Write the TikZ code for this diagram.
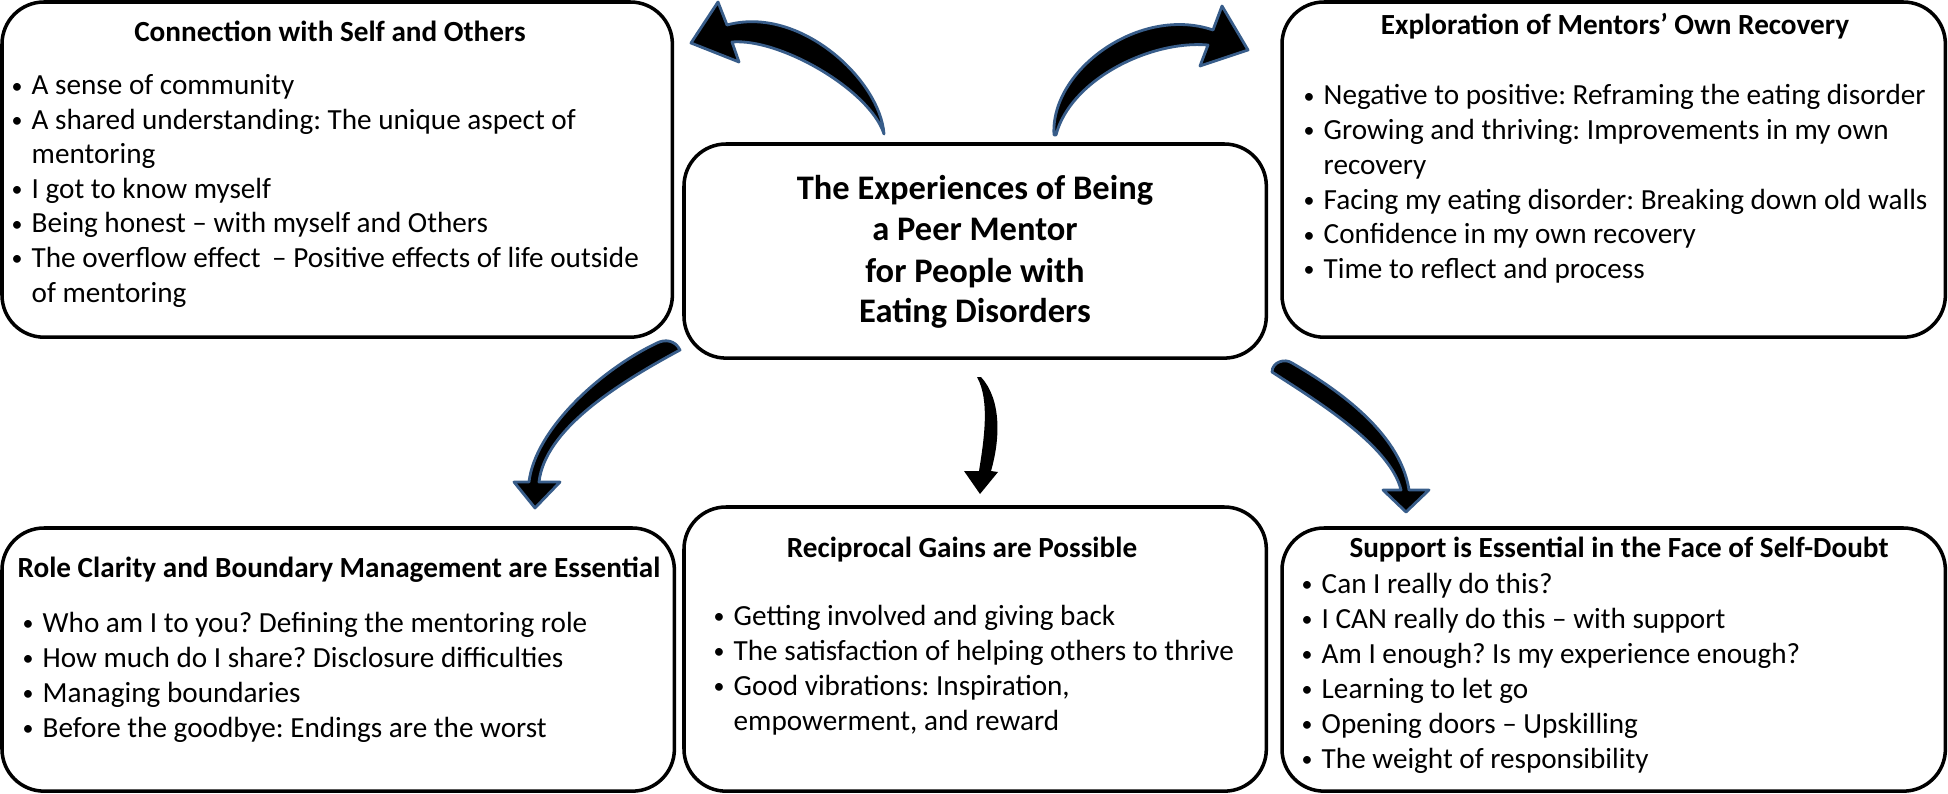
\documentclass[tikz,border=0pt]{standalone}
\usepackage{fontspec}
\setmainfont{Carlito}
\usetikzlibrary{positioning, calc}

\definecolor{arrowblue}{RGB}{56,93,138}
\newcommand{\bul}{\llap{\makebox[0.20cm][l]{\raisebox{0.06em}{\scalebox{0.75}{\textbullet}}}}}
\frenchspacing

\begin{document}
\begin{tikzpicture}[x=0.01cm, y=-0.01cm,
    themebox/.style={draw, line width=1pt, rounded corners=0.42cm,
        anchor=north west, inner sep=0pt, outer sep=0pt},
    themetitle/.style={anchor=base, inner sep=0pt,
        font=\fontsize{8.3}{10}\selectfont\bfseries},
    coretitle/.style={anchor=base, inner sep=0pt,
        font=\fontsize{9.8}{11}\selectfont\bfseries},
    item/.style={anchor=base west, inner sep=0pt,
        font=\fontsize{8.3}{10}\selectfont},
    bigarrow/.style={fill=black, draw=arrowblue, line width=0.8pt, line join=round}]

\useasboundingbox (0,0) rectangle (1948,794);

%---------------- Boxes ----------------%
\node[themebox, minimum width=6.70cm, minimum height=3.35cm] (conn) at (2,2) {};
\node[themebox, minimum width=6.63cm, minimum height=3.35cm] (expl) at (1282,2) {};
\node[themebox, minimum width=5.82cm, minimum height=2.14cm] (core) at (684,144) {};
\node[themebox, minimum width=6.72cm, minimum height=2.63cm] (role) at (2,528) {};
\node[themebox, minimum width=5.82cm, minimum height=2.84cm] (gain) at (684,507) {};
\node[themebox, minimum width=6.63cm, minimum height=2.63cm] (supp) at (1282,528) {};

%---------------- Centre ----------------%
\foreach \t [count=\i] in {The Experiences of Being, a Peer Mentor,
    for People with, Eating Disorders}{
  \node[coretitle] (core-\i) at (975,{200+41*(\i-1)}) {\t};
}

%---------------- Connection with Self and Others ----------------%
\node[themetitle] (conn-title) at (330,42) {Connection with Self and Others};
\foreach \t [count=\i] in {
    {\bul A sense of community},
    {\bul A shared understanding: The unique aspect of},
    {mentoring},
    {\bul I got to know myself},
    {\bul Being honest -- with myself and Others},
    {\bul The overflow effect \,-- Positive effects of life outside},
    {of mentoring}}{
  \node[item] (conn-\i) at (31,{95+34.5*(\i-1)}) {\t};
}

%---------------- Exploration of Mentors' Own Recovery ----------------%
\node[themetitle] (expl-title) at (1615,35) {Exploration of Mentors’ Own Recovery};
\foreach \t [count=\i] in {
    {\bul Negative to positive: Reframing the eating disorder},
    {\bul Growing and thriving: Improvements in my own},
    {recovery},
    {\bul Facing my eating disorder: Breaking down old walls},
    {\bul Confidence in my own recovery},
    {\bul Time to reflect and process}}{
  \node[item] (expl-\i) at (1323,{105+34.7*(\i-1)}) {\t};
}

%---------------- Role Clarity ----------------%
\node[themetitle] (role-title) at (339,577) {Role Clarity and Boundary Management are Essential};
\foreach \t [count=\i] in {
    {\bul Who am I to you? Defining the mentoring role},
    {\bul How much do I share? Disclosure difficulties},
    {\bul Managing boundaries},
    {\bul Before the goodbye: Endings are the worst}}{
  \node[item] (role-\i) at (42,{632+35*(\i-1)}) {\t};
}

%---------------- Reciprocal Gains ----------------%
\node[themetitle] (gain-title) at (962,557) {Reciprocal Gains are Possible};
\foreach \t [count=\i] in {
    {\bul Getting involved and giving back},
    {\bul The satisfaction of helping others to thrive},
    {\bul Good vibrations: Inspiration,},
    {empowerment, and reward}}{
  \node[item] (gain-\i) at (733,{625+35*(\i-1)}) {\t};
}

%---------------- Support ----------------%
\node[themetitle] (supp-title) at (1619,557) {Support is Essential in the Face of Self-Doubt};
\foreach \t [count=\i] in {
    {\bul Can I really do this?},
    {\bul I CAN really do this -- with support},
    {\bul Am I enough? Is my experience enough?},
    {\bul Learning to let go},
    {\bul Opening doors -- Upskilling},
    {\bul The weight of responsibility}}{
  \node[item] (supp-\i) at (1321,{593+35*(\i-1)}) {\t};
}

%---------------- Arrows ----------------%
% up-left
\filldraw[bigarrow] (884,134) .. controls (880,80) and (800,5) .. (727,25)
    -- (718,2) -- (691,43) -- (739,62) -- (732,42)
    .. controls (780,38) and (870,90) .. (884,134) -- cycle;
% up-right
\filldraw[bigarrow] (1054,135) .. controls (1050,70) and (1140,5) .. (1213,30)
    -- (1222,6) -- (1248,50) -- (1200,66) -- (1208,45)
    .. controls (1150,40) and (1070,80) .. (1056,135) -- cycle;
% down-left
\filldraw[bigarrow] (657,343) .. controls (600,370) and (535,430) .. (529,482)
    -- (514,482) -- (535,508) -- (560,482) -- (539,482)
    .. controls (545,430) and (615,385) .. (680,350)
    .. controls (675,340) and (665,339) .. (657,343) -- cycle;
% down
\fill (977,377) .. controls (990,400) and (984,440) .. (979,471)
    -- (964,471) -- (980,494) -- (998,472) -- (991,471)
    .. controls (1000,440) and (1002,400) .. (981,377) -- cycle;
% down-right
\filldraw[bigarrow] (1292,363) .. controls (1330,385) and (1400,430) .. (1409,490)
    -- (1429,490) -- (1406,512) -- (1383,490) -- (1401,490)
    .. controls (1390,445) and (1315,400) .. (1272,372)
    .. controls (1272,362) and (1285,358) .. (1292,363) -- cycle;

\end{tikzpicture}
\end{document}
